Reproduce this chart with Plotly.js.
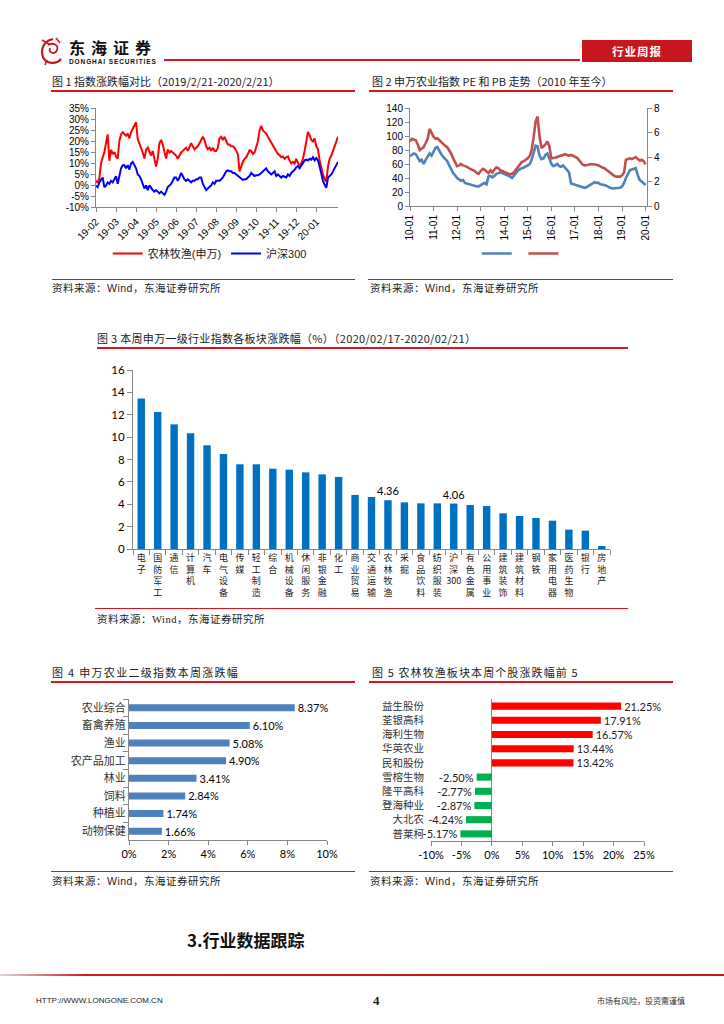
<!DOCTYPE html>
<html><head><meta charset="utf-8">
<script src="https://cdn.plot.ly/plotly-3.0.1.min.js"></script>
<style>
body{margin:0;width:724px;height:1024px;position:relative;background:#fff;overflow:hidden;font-family:"Noto Sans CJK SC","Liberation Sans",sans-serif;color:#222}
.t{position:absolute;white-space:nowrap}
.ft{position:absolute;white-space:nowrap;font-size:11px;line-height:14px;color:#222}
.rl{position:absolute;background:#d9141c}
.src{position:absolute;white-space:nowrap;font-size:10.5px;line-height:14px;letter-spacing:0.5px;color:#222}
.ch{position:absolute}
</style></head><body>

<svg class="t" style="left:39px;top:36px" width="26" height="30" viewBox="0 0 26 30">
<path d="M14 3 C5 5 1 13 4 21 C7 28 17 29 22 23" stroke="#c8161d" stroke-width="2.2" fill="none"/>
<path d="M9 9 C14 6 20 9 18 14 C16 19 9 17 11 12" stroke="#c8161d" stroke-width="1.8" fill="none"/>
<path d="M3 4 L10 8 M17 2 L21 7 M8 24 L6 29" stroke="#c8161d" stroke-width="1.5" fill="none"/>
</svg>
<div class="t" style="left:69px;top:39px;font-size:16px;line-height:17px;font-weight:700;letter-spacing:6px;color:#111">东海证券</div>
<div class="t" style="left:69px;top:57.5px;font-size:6.5px;line-height:7px;font-weight:700;letter-spacing:0.9px;color:#111;font-family:'Liberation Sans',sans-serif">DONGHAI SECURITIES</div>
<div class="rl" style="left:164px;top:59px;width:416px;height:1.5px"></div>
<div class="t" style="left:582px;top:40px;width:110px;height:22px;background:#c8161d;color:#fff;font-size:11.5px;line-height:22px;font-weight:700;text-align:center;letter-spacing:1px">行业周报</div>

<div class="ft" style="left:52px;top:74px">图 1 指数涨跌幅对比（2019/2/21-2020/2/21）</div>
<div class="rl" style="left:51px;top:90px;width:304px;height:2px"></div>
<div class="ft" style="left:372px;top:74px">图 2 申万农业指数 PE 和 PB 走势（2010 年至今）</div>
<div class="rl" style="left:369px;top:90px;width:304px;height:2px"></div>

<div id="c1" class="ch" style="left:40px;top:95px;width:320px;height:185px"></div>
<div id="c2" class="ch" style="left:360px;top:95px;width:320px;height:185px"></div>

<div class="rl" style="left:52px;top:278.5px;width:303px;height:1.5px"></div>
<div class="src" style="left:52px;top:281px">资料来源：<span style="font-family:'Liberation Sans',sans-serif">Wind</span>，东海证券研究所</div>
<div class="rl" style="left:368px;top:278.5px;width:305px;height:1.5px"></div>
<div class="src" style="left:370px;top:281px">资料来源：<span style="font-family:'Liberation Sans',sans-serif">Wind</span>，东海证券研究所</div>

<div class="ft" style="left:97px;top:331px;letter-spacing:0.3px">图 3 本周申万一级行业指数各板块涨跌幅（%）（2020/02/17-2020/02/21）</div>
<div class="rl" style="left:97px;top:347px;width:531px;height:2px"></div>
<div id="c3" class="ch" style="left:90px;top:355px;width:540px;height:260px"></div>
<div class="rl" style="left:95px;top:607.5px;width:533px;height:1.5px"></div>
<div class="src" style="left:97px;top:612px">资料来源：<span style="font-family:'Liberation Serif',serif">Wind</span>，东海证券研究所</div>

<div class="ft" style="left:52px;top:665px;letter-spacing:1.3px">图 4 申万农业二级指数本周涨跌幅</div>
<div class="rl" style="left:51px;top:681px;width:304px;height:2px"></div>
<div class="ft" style="left:372px;top:665px;letter-spacing:1.1px">图 5 农林牧渔板块本周个股涨跌幅前 5</div>
<div class="rl" style="left:369px;top:681px;width:304px;height:2px"></div>
<div id="c4" class="ch" style="left:40px;top:690px;width:320px;height:175px"></div>
<div id="c5" class="ch" style="left:360px;top:690px;width:320px;height:175px"></div>
<div class="rl" style="left:51px;top:870.5px;width:304px;height:1.5px"></div>
<div class="src" style="left:52px;top:874px">资料来源：<span style="font-family:'Liberation Sans',sans-serif">Wind</span>，东海证券研究所</div>
<div class="rl" style="left:369px;top:870.5px;width:304px;height:1.5px"></div>
<div class="src" style="left:370px;top:874px">资料来源：<span style="font-family:'Liberation Sans',sans-serif">Wind</span>，东海证券研究所</div>

<div class="t" style="left:187px;top:929px;font-size:17px;line-height:22px;font-weight:700;color:#111">3.行业数据跟踪</div>
<div class="t" style="left:0;top:974px;width:724px;height:2px;background:linear-gradient(to right,#d8d8d8 0%,#d9141c 12%,#c8161d 100%)"></div>
<div class="t" style="left:36px;top:996px;font-size:8px;line-height:10px;font-family:'Liberation Sans',sans-serif;color:#222">HTTP://WWW.LONGONE.COM.CN</div>
<div class="t" style="left:373px;top:993px;font-size:13px;line-height:15px;font-weight:700;font-family:'Liberation Serif',serif;color:#111">4</div>
<div class="t" style="left:597px;top:996px;font-size:8px;line-height:10px;color:#333">市场有风险，投资需谨慎</div>

<script>
// ---------- Chart 1 data (sampled roughly every 1.67 trading days, 2019/2/21-2020/2/21) ----------
const ticks1 = ['19-02','19-03','19-04','19-05','19-06','19-07','19-08','19-09','19-10','19-11','19-12','20-01'];
const agri1 = [2,1,3,9.8,12.6,14.8,19,23,11,16, 14,15,13,12,20,23,24,23.4,22.4,23.4, 21.2,24,25.5,27.6,28.5,21,19,17,14.8,12,
 16,17,14.8,13.4,15.5,12,8.4,12,19,20.5, 18.5,15,12,16.2,14.8,15.5,14.8,14.1,13.4,11.9, 13.4,14.8,15.5,16.2,17,15.5,17.6,19,17.6,16.2,
 17,17.6,19,20.5,21.9,20.5,17.6,16.2,17,15.5, 17,15.5,15.5,17,
 21.2,21.9,20.5,21.9,20.5,18.4,18.4,17.6,17.6,17, 15.5,14.1,6.2,9,10.5,11.9,12.6,14.1,15.8,15.5,
 14.1,14.8,17,19.8,24.8,26.9,24.8,24.1,23.4,21.9, 20.5,19.1,18.4,17,15.5,14.1,13.6,12.6,13,11.9,
 12.6,13,11.2,9.8,10.5,9.8,11.9,10.5,8.4,9.8, 11.9,15.5,19.8,24.1,22.6,20.5,19.8,21.2,17.6,16.2,
 11.2,7.6,4.8,2.6,1.5,8.4,11.9,13.4,15.5,17, 19.8,21.9];
const hs300 = [-0.2,-1,1.2,2.6,3.4,-1,-0.3,1.2,0.5,1.9, 1.2,2.6,4,0.5,4.8,7.6,9,9,7.6,9, 7,9.8,10.5,9,7.6,4.8,4.1,2.6,0.5,-1.6,
 -0.2,-2.3,-0.2,-1.6,-2.3,-3,-2.3,-3,-3.8,-3, -3.8,-4.5,-3,-0.9,-0.2,0.5,1.9,3.4,3.4,1.9, 3.4,5.5,4.1,2.6,1.9,2.6,1.9,1.2,1.9,1.9,
 2.6,2.6,3.4,3.4,0.5,-1,-2.3,-1.6,-1,-0.2, 1.2,0.5,1.9,1.9,
 1.9,2.6,3.4,4.8,6.2,6.6,6.2,6.2,5.5,5.5, 4.8,4.1,3.4,2.6,2.3,2.6,2.6,3.4,4.1,5.5,
 4.8,4.1,4.4,4.4,4.8,5.5,6.2,6.9,7.6,6.2, 5.5,4.8,5.5,6.2,4.1,4.8,4.1,3.4,4.1,3.8,
 3.4,4.8,4.1,5.5,6.2,6.9,8.1,8.6,7.6,9, 10,11.2,11.5,11.2,11.9,11.5,12.6,11.2,12.3,11.2,
 8.4,4.8,1.9,0.1,-1.3,3.4,4.1,4.8,6.2,7.6, 8.4,10.5];
const yTicks1 = [-10,-5,0,5,10,15,20,25,30,35];

// ---------- Chart 2 data (monthly, 2010-01 .. 2020-01) ----------
const years2 = ['10-01','11-01','12-01','13-01','14-01','15-01','16-01','17-01','18-01','19-01','20-01'];
const pe2 = [71,73,75,74,68,64,66,60,66,70,75,72,
 78,83,84,78,74,70,67,64,58,52,47,44,
 40,38,36,37,33,32,31,30,30,29,28,28,
 30,32,33,31,42,43,41,43,46,47,48,47,
 46,45,44,42,40,43,47,51,53,54,55,56,
 58,60,66,76,86,85,72,67,68,73,75,68,
 60,57,59,60,57,56,58,55,52,48,32,31,
 30,29,29,28,27,26,27,29,31,33,34,33,
 33,31,31,30,29,27,26,25,25,25,26,26,
 28,33,40,47,51,52,53,54,44,37,35,33,
 30];
const pb2 = [5.26,5.49,5.43,5.37,5.03,4.57,4.69,4.80,5.14,5.49,6.29,5.94,
 5.66,5.49,5.54,5.37,5.20,5.03,4.91,4.80,4.57,4.29,3.89,3.60,
 3.26,3.31,3.43,3.31,3.26,3.20,3.09,3.03,2.91,2.86,2.69,2.63,
 2.86,3.03,2.97,2.80,2.69,2.91,2.74,2.97,3.14,3.09,2.91,2.86,
 2.80,2.69,2.69,2.57,2.63,2.74,2.97,3.20,3.43,3.60,3.66,3.77,
 3.89,4.11,4.57,5.60,6.90,7.30,5.71,4.74,4.86,5.03,5.26,4.86,
 3.89,3.89,3.94,4.00,4.06,4.11,4.17,4.23,4.17,4.11,4.17,4.11,
 4.00,3.94,3.77,3.54,3.37,3.31,3.31,3.37,3.43,3.43,3.43,3.37,
 3.31,3.20,3.14,3.09,2.97,2.80,2.69,2.57,2.46,2.40,2.40,2.40,
 2.51,2.74,3.77,3.83,3.89,3.83,3.94,4.00,3.83,3.71,3.77,3.66,
 3.40];

// ---------- Chart 3 data ----------
const cats3 = ['电子','国防军工','通信','计算机','汽车','电气设备','传媒','轻工制造','综合','机械设备','休闲服务','非银金融','化工',
 '商业贸易','交通运输','农林牧渔','采掘','食品饮料','纺织服装','沪深300','有色金属','公用事业','建筑装饰','建筑材料','钢铁','家用电器','医药生物','银行','房地产'];
const vals3 = [13.45,12.24,11.14,10.34,9.27,8.49,7.57,7.57,7.18,7.09,6.85,6.67,6.44,
 4.83,4.65,4.36,4.17,4.08,4.08,4.06,3.93,3.84,3.19,2.95,2.77,2.53,1.73,1.64,0.27];
const labeled3 = ['农林牧渔','沪深300'];

// ---------- Chart 4 data ----------
const cats4 = ['农业综合','畜禽养殖','渔业','农产品加工','林业','饲料','种植业','动物保健'];
const vals4 = [8.37,6.10,5.08,4.90,3.41,2.84,1.74,1.66];

// ---------- Chart 5 data ----------
const cats5 = ['益生股份','荃银高科','海利生物','华英农业','民和股份','雪榕生物','隆平高科','登海种业','大北农','普莱柯'];
const vals5 = [21.25,17.91,16.57,13.44,13.42,-2.50,-2.77,-2.87,-4.24,-5.17];

const AX = '#868686';
const LAT = 'Liberation Sans, Arial, sans-serif';
const CJK = 'Noto Sans CJK SC, Liberation Sans, sans-serif';
const CAL = 'Lato, Liberation Sans, sans-serif';
const cfg = {staticPlot:true, displayModeBar:false};
const base = {paper_bgcolor:'rgba(0,0,0,0)', plot_bgcolor:'rgba(0,0,0,0)'};

// Chart 1
const idx1 = agri1.map((_, i) => i);
Plotly.newPlot('c1', [
  {x: idx1, y: agri1, type:'scatter', mode:'lines', name:'农林牧渔(申万)', line:{color:'#FF0000', width:2}},
  {x: idx1, y: hs300, type:'scatter', mode:'lines', name:'沪深300', line:{color:'#0000FF', width:2}}
], Object.assign({}, base, {
  width:320, height:185, margin:{l:56, r:22, t:13, b:67},
  font:{family:LAT, size:10, color:'#000'},
  showlegend:true,
  legend:{orientation:'h', x:0.47, xanchor:'center', y:-0.47, yanchor:'middle', font:{family:LAT+', Noto Sans CJK SC', size:11, color:'#222'}, itemwidth:30, tracegroupgap:0},
  xaxis:{range:[0, 145], tickvals: ticks1.map((_, k) => k*12), ticktext: ticks1, tickangle:-45,
    showline:true, linecolor:AX, ticks:'outside', ticklen:4, tickcolor:AX, showgrid:false, zeroline:false, tickfont:{size:10}},
  yaxis:{range:[-10, 35], tickvals: yTicks1, ticktext: yTicks1.map(v => v + '%'), showline:true, linecolor:AX,
    ticks:'outside', ticklen:4, tickcolor:AX, showgrid:false, zeroline:false, tickfont:{size:10}}
}), cfg);

// Chart 2
const dates2 = pe2.map((_, m) => {
  const y = 2010 + Math.floor(m/12), mo = m % 12 + 1;
  return y + '-' + (mo < 10 ? '0' + mo : mo) + '-01';
});
Plotly.newPlot('c2', [
  {x: dates2, y: pe2, type:'scatter', mode:'lines', name:' ', line:{color:'#4F81BD', width:2.6}},
  {x: dates2, y: pb2, type:'scatter', mode:'lines', name:' ', yaxis:'y2', line:{color:'#C0504D', width:2.6}}
], Object.assign({}, base, {
  width:320, height:185, margin:{l:50, r:33, t:13, b:69},
  font:{family:LAT, size:10, color:'#000'},
  showlegend:true,
  legend:{orientation:'h', x:0.48, xanchor:'center', y:-0.485, yanchor:'middle', font:{size:6}, itemwidth:30},
  xaxis:{type:'date', range:['2010-01-01','2020-01-22'], tickvals: years2.map(s => '20' + s.slice(0,2) + '-01-01'), ticktext: years2,
    tickangle:-90, showline:true, linecolor:AX, ticks:'outside', ticklen:4, tickcolor:AX, showgrid:false, zeroline:false},
  yaxis:{range:[0,140], dtick:20, showline:true, linecolor:AX, ticks:'outside', ticklen:4, tickcolor:AX, showgrid:false, zeroline:false},
  yaxis2:{range:[0,8], dtick:2, overlaying:'y', side:'right', showline:true, linecolor:AX, ticks:'outside', ticklen:4, tickcolor:AX, showgrid:false, zeroline:false}
}), cfg);

// Chart 3
const vert = s => s.match(/\d+|./g).join('<br>');
Plotly.newPlot('c3', [{
  x: cats3, y: vals3, type:'bar', marker:{color:'#0070C0'},
  text: cats3.map((c, i) => labeled3.includes(c) ? vals3[i].toFixed(2) : ''),
  textposition:'outside', constraintext:'none', textfont:{family:CAL, size:11, color:'#000'}, cliponaxis:false, hoverinfo:'none'
}], Object.assign({}, base, {
  width:540, height:260, margin:{l:43, r:20, t:15, b:66}, bargap:0.55,
  font:{family:CAL, size:11, color:'#000'},
  xaxis:{type:'category', tickvals: cats3, ticktext: cats3.map(vert), tickangle:0, tickson:'boundaries',
    ticks:'outside', ticklen:5, tickcolor:AX, showline:true, linecolor:AX, tickfont:{family:CJK, size:9, color:'#222'}},
  yaxis:{range:[0,16], dtick:2, ticks:'outside', ticklen:5, tickcolor:AX, showline:true, linecolor:AX, showgrid:false, zeroline:false,
    tickfont:{family:CAL, size:11.5, color:'#000'}}
}), cfg);

// Chart 4
const xt4 = [0,2,4,6,8,10];
Plotly.newPlot('c4', [{
  y: cats4, x: vals4, type:'bar', orientation:'h', marker:{color:'#4F81BD'},
  text: vals4.map(v => v.toFixed(2) + '%'), textposition:'outside', constraintext:'none',
  textfont:{family:CAL, size:11, color:'#000'}, cliponaxis:false
}], Object.assign({}, base, {
  width:320, height:175, margin:{l:89, r:33, t:9, b:25}, bargap:0.6,
  font:{family:CAL, size:11, color:'#000'},
  yaxis:{type:'category', autorange:'reversed', tickson:'boundaries', ticks:'outside', ticklen:5, tickcolor:AX,
    showline:true, linecolor:AX, tickfont:{family:CJK, size:11, color:'#333'}},
  xaxis:{range:[0,10], tickvals: xt4, ticktext: xt4.map(v => v + '%'), ticks:'outside', ticklen:4, tickcolor:AX,
    showline:true, linecolor:AX, showgrid:false, zeroline:false}
}), cfg);

// Chart 5
const xt5 = [-10,-5,0,5,10,15,20,25];
Plotly.newPlot('c5', [{
  y: cats5, x: vals5, type:'bar', orientation:'h', marker:{color: vals5.map(v => v >= 0 ? '#FF0000' : '#00B050')},
  text: vals5.map(v => v.toFixed(2) + '%'), textposition:'outside', constraintext:'none',
  textfont:{family:CAL, size:11, color:'#222'}, cliponaxis:false
}], Object.assign({}, base, {
  width:320, height:175, margin:{l:71, r:36, t:9, b:24}, bargap:0.5,
  font:{family:CAL, size:11, color:'#000'},
  yaxis:{type:'category', autorange:'reversed', ticks:'', showline:false, ticklabelstandoff:6,
    tickfont:{family:CJK, size:10.5, color:'#333'}},
  xaxis:{range:[-10,25], tickvals: xt5, ticktext: xt5.map(v => v + '%'), ticks:'outside', ticklen:4, tickcolor:AX,
    showline:true, linecolor:AX, showgrid:false, zeroline:true, zerolinecolor:AX, zerolinewidth:1}
}), cfg);
</script>
</body></html>
